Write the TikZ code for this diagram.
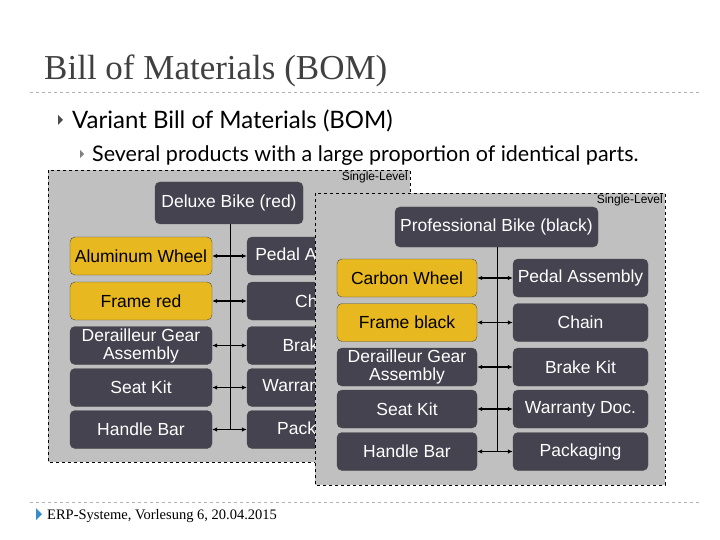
\documentclass[tikz,border=0pt]{standalone}
\usepackage{fontspec}
\setmainfont{Liberation Sans}
\newfontfamily\titlefont{Liberation Serif}
\newfontfamily\bulletfont{Lato}
\usetikzlibrary{arrows.meta}
\definecolor{boxgray}{HTML}{C0C0C0}
\definecolor{darknode}{HTML}{45434F}
\definecolor{yel}{HTML}{E8B820}
\definecolor{titlegray}{HTML}{404040}
\begin{document}
\begin{tikzpicture}[x=1pt,y=-1pt,
  frame/.style={draw=black,dashed,fill=boxgray,line width=0.6pt},
  part/.style={draw=black!70,fill=darknode,rounded corners=5pt,text=white,font=\fontsize{17.5}{18}\selectfont,align=center,inner sep=0pt},
  yelpart/.style={part,fill=yel,text=black},
  link/.style={{Latex[length=5pt,width=4.5pt]}-{Latex[length=5pt,width=4.5pt]},line width=1.2pt},
  lvl/.style={font=\fontsize{12}{13}\selectfont,anchor=north east,inner sep=1pt}]
\useasboundingbox (0,0) rectangle (720,540);
\node[anchor=base west,font=\titlefont\fontsize{35}{37}\selectfont,text=titlegray,inner sep=0] (title) at (44,80) {Bill of Materials (BOM)};
\draw[gray!60,dashed] (30,92) -- (700,92);
\fill[black!70] (58,115) -- (63,120) -- (58,125) -- cycle;
\node[anchor=base west,font=\bulletfont\fontsize{24}{26}\selectfont,inner sep=0] (b1) at (72,129) {Variant Bill of Materials (BOM)};
\fill[black!50] (80,150) -- (84,154) -- (80,158) -- cycle;
\node[anchor=base west,font=\bulletfont\fontsize{21.5}{23}\selectfont,inner sep=0] (b2) at (92,162) {Several products with a large proportion of identical parts.};
% box 1
\draw[frame] (48,170) rectangle (410,462);
\node[lvl] (l1) at (409,171) {Single-Level};
\node[part,minimum width=148pt,minimum height=42pt] (p1) at (229,203) {Deluxe Bike (red)};
\foreach \n/\t/\y/\s in {a1/Aluminum Wheel/256/yelpart, a2/Frame red/301/yelpart, a3/{Derailleur Gear\\Assembly}/345.5/part, a4/Seat Kit/387.5/part, a5/Handle Bar/429.5/part}
  \node[\s,minimum width=142pt,minimum height=38pt] (\n) at (141,\y) {\t};
\foreach \n/\t/\y in {c1/Pedal Assembly/256, c2/Chain/301, c3/Brake Kit/345.5, c4/Warranty Doc./387.5, c5/Packaging/429.5}
  \node[part,minimum width=142pt,minimum height=38pt] (\n) at (318,\y) {\t};
\coordinate (v1) at (230,430);
\draw[line width=0.8pt] (p1.south -| v1) -- (v1);
\foreach \i in {1,...,5} \draw[link] (a\i) -- (c\i);
% box 2
\draw[frame] (315,193) rectangle (665,485);
\node[lvl] (l2) at (664,194) {Single-Level};
\node[part,minimum width=203pt,minimum height=40pt] (p2) at (496.5,227) {Professional Bike (black)};
\foreach \n/\t/\y/\s in {d1/Carbon Wheel/278/yelpart, d2/Frame black/322.5/yelpart, d3/{Derailleur Gear\\Assembly}/367/part, d4/Seat Kit/409/part, d5/Handle Bar/451.5/part}
  \node[\s,minimum width=140pt,minimum height=38pt] (\n) at (407,\y) {\t};
\foreach \n/\t/\y in {e1/Pedal Assembly/278, e2/Chain/322.5, e3/Brake Kit/367, e4/Warranty Doc./409, e5/Packaging/451.5}
  \node[part,minimum width=135pt,minimum height=38pt] (\n) at (580.5,\y) {\t};
\coordinate (v2) at (497,451.5);
\draw[line width=0.8pt] (p2.south -| v2) -- (v2);
\foreach \i in {1,...,5} \draw[link] (d\i) -- (e\i);
% footer
\draw[gray!60,dashed] (30,502) -- (700,502);
\fill[blue!40!cyan!60!gray] (36,508) -- (42,514) -- (36,520) -- cycle;
\node[anchor=base west,font=\titlefont\fontsize{14.5}{16}\selectfont,inner sep=0] (foot) at (47,519) {ERP-Systeme, Vorlesung 6, 20.04.2015};
\end{tikzpicture}
\end{document}
